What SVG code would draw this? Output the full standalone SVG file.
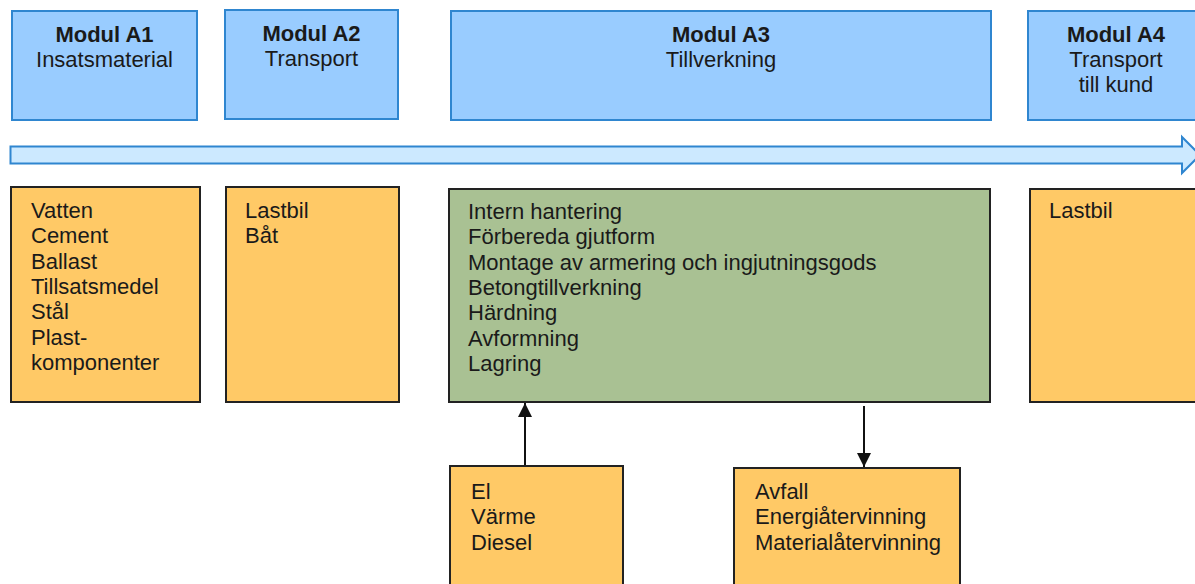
<svg xmlns="http://www.w3.org/2000/svg" width="1195" height="584" viewBox="0 0 1195 584">
<style>
.mod{fill:#99ccff;stroke:#2f86d0;stroke-width:2}
.box{fill:#ffc966;stroke:#222;stroke-width:2}
.green{fill:#a9c193;stroke:#222;stroke-width:2}
text{font-family:"Liberation Sans",Arial,sans-serif;font-size:22px;fill:#1a1a1a}
.b{font-weight:bold}
.c{text-anchor:middle}
</style>
<defs>
<marker id="ah" viewBox="0 0 10 10" refX="10" refY="5" markerWidth="14" markerHeight="14" markerUnits="userSpaceOnUse" orient="auto" overflow="visible">
<path d="M0,0 L10,5 L0,10 z" fill="#111"/>
</marker>
</defs>
<rect width="1195" height="584" fill="#fff"/>
<g id="flow-arrow">
<path d="M10.5,146.5 H1182 V137 L1200,155 L1182,173 V163.5 H10.5 Z" fill="#cce9ff" stroke="#2f86d0" stroke-width="2"/>
</g>
<g id="modA1"><rect class="mod" x="12" y="11" width="185" height="109"/>
<text class="c b" x="104.5" y="42">Modul A1</text><text class="c" x="104.5" y="67">Insatsmaterial</text></g>
<g id="modA2"><rect class="mod" x="225" y="10" width="173" height="109"/>
<text class="c b" x="311.5" y="41">Modul A2</text><text class="c" x="311.5" y="66">Transport</text></g>
<g id="modA3"><rect class="mod" x="451" y="11" width="540" height="109"/>
<text class="c b" x="721" y="42">Modul A3</text><text class="c" x="721" y="67">Tillverkning</text></g>
<g id="modA4"><rect class="mod" x="1028" y="11" width="180" height="109"/>
<text class="c b" x="1116" y="42">Modul A4</text><text class="c" x="1116" y="67">Transport</text><text class="c" x="1116" y="92">till kund</text></g>
<g id="a1-items"><rect class="box" x="11" y="187" width="189" height="215"/>
<text x="31" y="218">Vatten</text><text x="31" y="243.3">Cement</text><text x="31" y="268.6">Ballast</text><text x="31" y="293.9">Tillsatsmedel</text><text x="31" y="319.2">Stål</text><text x="31" y="344.5">Plast-</text><text x="31" y="369.8">komponenter</text></g>
<g id="a2-items"><rect class="box" x="226" y="187" width="173" height="215"/>
<text x="245" y="218">Lastbil</text><text x="245" y="243.3">Båt</text></g>
<g id="a3-items"><rect class="green" x="449" y="189" width="541" height="213"/>
<text x="468" y="219">Intern hantering</text><text x="468" y="244.3">Förbereda gjutform</text><text x="468" y="269.6">Montage av armering och ingjutningsgods</text><text x="468" y="294.9">Betongtillverkning</text><text x="468" y="320.2">Härdning</text><text x="468" y="345.5">Avformning</text><text x="468" y="370.8">Lagring</text></g>
<g id="a4-items"><rect class="box" x="1030" y="189" width="180" height="213"/>
<text x="1049" y="218">Lastbil</text></g>
<g id="energy"><rect class="box" x="450" y="466" width="173" height="130"/>
<text x="471" y="499">El</text><text x="471" y="524.3">Värme</text><text x="471" y="549.6">Diesel</text></g>
<g id="waste"><rect class="box" x="734" y="468" width="226" height="130"/>
<text x="755" y="499">Avfall</text><text x="755" y="524.3">Energiåtervinning</text><text x="755" y="549.6">Materialåtervinning</text></g>
<g id="connectors" stroke="#111" stroke-width="2" fill="none">
<line x1="525" y1="465" x2="525" y2="403" marker-end="url(#ah)"/>
<line x1="864" y1="406" x2="864" y2="467" marker-end="url(#ah)"/>
</g>
</svg>
